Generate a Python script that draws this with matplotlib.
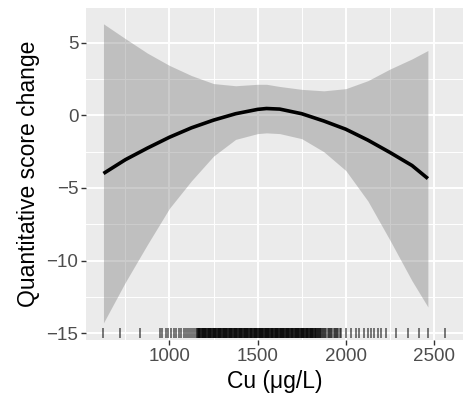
import matplotlib
matplotlib.use("Agg")
from matplotlib import pyplot as plt
from matplotlib.ticker import MultipleLocator

plt.rcParams['font.family'] = ['Liberation Sans', 'DejaVu Sans']

# smooth fit
cu = [626, 750, 875, 1000, 1125, 1250, 1375, 1500, 1550, 1625,
      1750, 1875, 2000, 2125, 2250, 2375, 2465]
fit = [-4.0, -3.05, -2.25, -1.5, -0.85, -0.32, 0.12, 0.42, 0.48, 0.44,
       0.12, -0.38, -0.95, -1.7, -2.55, -3.45, -4.35]
upper = [6.32, 5.3, 4.3, 3.45, 2.75, 2.2, 2.05, 2.15, 2.15, 2.0,
         1.8, 1.7, 1.85, 2.4, 3.2, 3.9, 4.48]
lower = [-14.3, -11.5, -8.9, -6.4, -4.5, -2.8, -1.65, -1.25, -1.2, -1.25,
         -1.6, -2.5, -3.8, -5.9, -8.6, -11.4, -13.2]

# observed Cu values (rug)
rug_x = [624, 718, 832, 945, 960, 979, 992, 1011, 1024, 1039, 1055, 1068,
         1080, 1094, 1105, 1118, 1130, 1141, 1153, 1157, 1160, 1163, 1166,
         1169, 1172, 1176, 1179, 1182, 1185, 1188, 1190, 1194, 1197, 1201,
         1204, 1207, 1210, 1213, 1216, 1220, 1223, 1226, 1229, 1232, 1235,
         1238, 1241, 1245, 1248, 1251, 1254, 1257, 1260, 1263, 1266, 1270,
         1273, 1276, 1279, 1282, 1285, 1289, 1292, 1295, 1298, 1301, 1304,
         1307, 1310, 1314, 1317, 1320, 1323, 1326, 1329, 1333, 1336, 1339,
         1342, 1345, 1348, 1351, 1354, 1357, 1360, 1364, 1367, 1370, 1373,
         1376, 1379, 1382, 1385, 1389, 1392, 1395, 1398, 1401, 1404, 1407,
         1410, 1414, 1417, 1420, 1423, 1426, 1429, 1433, 1436, 1439, 1442,
         1445, 1448, 1451, 1454, 1458, 1461, 1464, 1467, 1470, 1473, 1477,
         1480, 1483, 1486, 1489, 1492, 1495, 1498, 1502, 1505, 1508, 1511,
         1514, 1517, 1520, 1523, 1527, 1530, 1533, 1536, 1539, 1542, 1545,
         1548, 1552, 1555, 1558, 1561, 1564, 1567, 1571, 1574, 1577, 1580,
         1583, 1586, 1589, 1592, 1596, 1599, 1602, 1605, 1608, 1611, 1615,
         1618, 1621, 1624, 1627, 1630, 1633, 1636, 1640, 1643, 1646, 1649,
         1652, 1655, 1658, 1661, 1665, 1668, 1671, 1674, 1677, 1680, 1684,
         1687, 1690, 1693, 1696, 1699, 1702, 1705, 1709, 1712, 1715, 1718,
         1721, 1724, 1728, 1731, 1734, 1737, 1740, 1743, 1746, 1749, 1753,
         1756, 1759, 1762, 1765, 1768, 1772, 1775, 1778, 1781, 1784, 1787,
         1791, 1794, 1797, 1800, 1803, 1806, 1810, 1813, 1816, 1819, 1823,
         1826, 1830, 1833, 1837, 1840, 1844, 1848, 1852, 1855, 1861, 1866,
         1872, 1878, 1884, 1890, 1897, 1903, 1910, 1917, 1923, 1930, 1937,
         1944, 1951, 1958, 1964, 1970, 2002, 2030, 2058, 2075, 2104, 2126,
         2143, 2160, 2183, 2200, 2228, 2284, 2354, 2416, 2464, 2563]
rug_y = -15

fig = plt.figure(figsize=(4.71, 4.08), dpi=100)
ax = fig.add_axes([86 / 471, 1 - 340 / 408, 377 / 471, 332 / 408])

ax.set_facecolor('#EBEBEB')
for s in ax.spines.values():
    s.set_visible(False)

ax.xaxis.set_major_locator(MultipleLocator(500))
ax.xaxis.set_minor_locator(MultipleLocator(250))
ax.yaxis.set_major_locator(MultipleLocator(5))
ax.yaxis.set_minor_locator(MultipleLocator(2.5))
ax.grid(which='major', color='white', lw=1.4)
ax.grid(which='minor', color='white', lw=0.7)
ax.set_axisbelow(True)

ax.fill_between(cu, lower, upper, color='#7F7F7F', alpha=0.4, lw=0)
ax.plot(cu, fit, color='black', lw=2.6, solid_capstyle='butt')
ax.plot(rug_x, [rug_y] * len(rug_x), ls='none', marker='|', ms=7.5,
        mew=1.2, color='black', alpha=0.6, clip_on=False)

ax.set_xlim(527, 2664)
ax.set_ylim(-15.48, 7.41)

ax.tick_params(which='major', length=3.5, width=1.0, color='#333333',
               labelcolor='#4D4D4D', labelsize=13.5, pad=2)
ax.tick_params(which='minor', length=0)

ax.set_xlabel('Cu (\u03bcg/L)', fontsize=16.5, color='black', labelpad=4)
ax.set_ylabel('Quantitative score change', fontsize=16.5, color='black',
              labelpad=5)

fig.savefig('out.png', dpi=100)
